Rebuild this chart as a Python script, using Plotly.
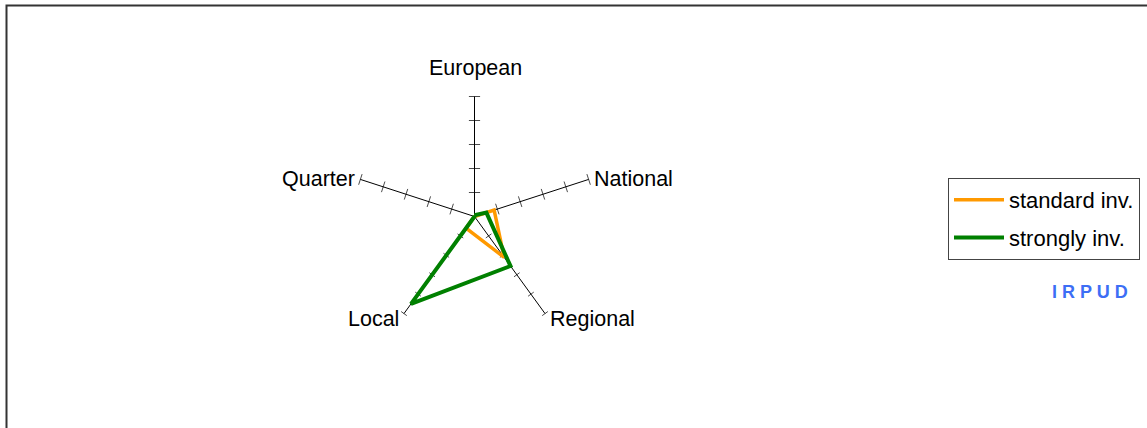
import math
import plotly.graph_objects as go

# spoke categories, clockwise from the top
categories = ['European', 'National', 'Regional', 'Local', 'Quarter']

# values (radial scale 0..5, one tick per unit)
standard_inv = [0.0, 0.86, 2.1, 0.6, 0.0]
strongly_inv = [0.05, 0.52, 2.55, 4.5, 0.0]

tick_values = [1, 2, 3, 4, 5]

W, H = 1147, 428


def px(x):
    return x / W


def py(y):
    return 1 - y / H


cx, cy, rad = 474.5, 216.5, 120

fig = go.Figure()

# small tick marks across every spoke, turned to sit perpendicular to it
tick_r, tick_theta, tick_angle, tick_size = [], [], [], []
for i, cat in enumerate(categories):
    spoke = 90 - 72 * i
    for v in tick_values:
        tick_r.append(v)
        tick_theta.append(cat)
        tick_angle.append((90 - spoke) % 180)
        tick_size.append(5 if cat in ('Regional', 'Local') else 8)

fig.add_trace(go.Scatterpolar(
    r=tick_r, theta=tick_theta, mode='markers',
    marker=dict(symbol='line-ew', size=tick_size, angle=tick_angle,
                line=dict(color='black', width=1)),
    showlegend=False, hoverinfo='skip'
))

fig.add_trace(go.Scatterpolar(
    r=standard_inv + standard_inv[:1], theta=categories + categories[:1],
    mode='lines', name='standard inv.',
    line=dict(color='#FF9900', width=3.5), legendgroup='a'
))
fig.add_trace(go.Scatterpolar(
    r=strongly_inv + strongly_inv[:1], theta=categories + categories[:1],
    mode='lines', name='strongly inv.',
    line=dict(color='#008000', width=4), legendgroup='b'
))

# spoke labels placed just beyond the spoke ends
label_style = {
    'European': dict(xanchor='center', yanchor='bottom', dx=1, dy=-15),
    'National': dict(xanchor='left', yanchor='middle', dx=3, dy=0),
    'Regional': dict(xanchor='left', yanchor='middle', dx=3, dy=5),
    'Local': dict(xanchor='right', yanchor='middle', dx=-3, dy=5),
    'Quarter': dict(xanchor='right', yanchor='middle', dx=-3, dy=0),
}
annotations = []
for i, cat in enumerate(categories):
    a = math.radians(90 - 72 * i)
    s = label_style[cat]
    ex = cx + rad * math.cos(a) + s['dx']
    ey = cy - rad * math.sin(a) + s['dy']
    annotations.append(dict(text=cat, xref='paper', yref='paper',
                            x=px(ex), y=py(ey), showarrow=False,
                            xanchor=s['xanchor'], yanchor=s['yanchor'],
                            font=dict(size=21.5)))

annotations.append(dict(text='<b>I R P U D</b>', xref='paper', yref='paper',
                        x=px(1089.5), y=py(292), showarrow=False,
                        xanchor='center', yanchor='middle',
                        font=dict(size=18, color='#3D6EF5')))

fig.update_layout(
    width=W, height=H,
    margin=dict(l=0, r=0, t=0, b=0),
    paper_bgcolor='white',
    font=dict(family='Liberation Sans, Arial', color='black'),
    polar=dict(
        domain=dict(x=[px(cx - rad), px(cx + rad)],
                    y=[py(cy + rad), py(cy - rad)]),
        bgcolor='rgba(0,0,0,0)',
        radialaxis=dict(range=[0, 5], showgrid=False, showline=False,
                        showticklabels=False, ticks=''),
        angularaxis=dict(rotation=90, direction='clockwise',
                         showgrid=True, gridcolor='black', gridwidth=1,
                         showline=False, ticks='', showticklabels=False),
    ),
    legend=dict(x=px(948), y=py(178), xanchor='left', yanchor='top',
                bordercolor='#444', borderwidth=1, bgcolor='white',
                font=dict(size=22), tracegroupgap=6, itemwidth=50),
    shapes=[dict(type='rect', xref='paper', yref='paper',
                 x0=px(6.5), x1=1.05, y0=-0.05, y1=py(5.5),
                 line=dict(color='#333', width=2))],
    annotations=annotations,
)

# drop the page's default body margin so the figure sits at the top-left corner
fig.write_html('out.html', config={'displayModeBar': False},
               post_script="document.body.style.margin='0px';")
